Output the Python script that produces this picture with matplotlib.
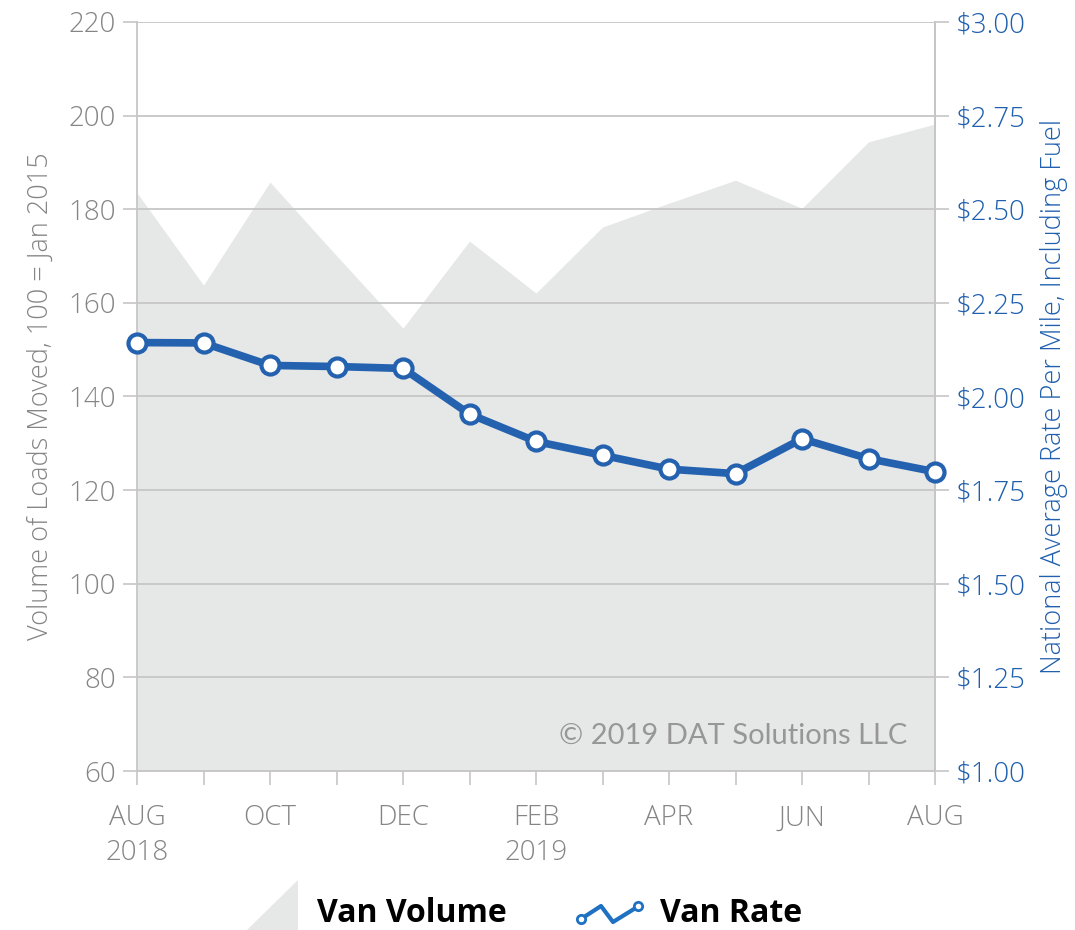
import matplotlib.pyplot as plt
from matplotlib.patches import Polygon
from matplotlib.lines import Line2D
import numpy as np

# Data
months = ["AUG\n2018", "SEP", "OCT", "NOV", "DEC", "JAN", "FEB\n2019",
          "MAR", "APR", "MAY", "JUN", "JUL", "AUG"]
van_volume = [183.5, 163.8, 185.8, 170.1, 154.6, 173.2, 162.1,
              176.2, 181.3, 186.2, 180.2, 194.4, 198.2]
van_rate = [2.144, 2.143, 2.083, 2.080, 2.075, 1.953, 1.880,
            1.843, 1.806, 1.794, 1.887, 1.834, 1.799]
left_ticks = [60, 80, 100, 120, 140, 160, 180, 200, 220]
right_ticks = [1.00, 1.25, 1.50, 1.75, 2.00, 2.25, 2.50, 2.75, 3.00]

gray_txt = "#858585"
blue_txt = "#1f5fae"
line_blue = "#2462af"
fill_gray = "#e6e7e7"
grid_gray = "#c6c6c6"
font = "Open Sans"
lw_font = "light"

fig = plt.figure(figsize=(10.75, 9.3), dpi=100)
ax = fig.add_axes([137 / 1075, 1 - 771 / 930, (935 - 137) / 1075, (771 - 22) / 930])
x = np.arange(len(months))

ax.fill_between(x, 0, van_volume, color=fill_gray, lw=0, zorder=1)
ax.set_xlim(0, len(months) - 1)
ax.set_ylim(60, 220)
ax.set_yticks(left_ticks)
ax.set_yticklabels([str(t) for t in left_ticks], fontsize=20, color=gray_txt,
                   family=font, fontweight=lw_font)
for t in left_ticks:
    ax.axhline(t, color=grid_gray, lw=1.3, zorder=2)

ax.set_xticks(x)
ax.set_xticklabels([m if i % 2 == 0 else "" for i, m in enumerate(months)],
                   fontsize=20, color=gray_txt, family=font, fontweight=lw_font,
                   linespacing=1.3)
ax.tick_params(axis="x", length=10, width=1.2, color=grid_gray, pad=14)
ax.tick_params(axis="y", length=10, width=1.2, color=grid_gray, pad=5)
ax.spines["top"].set_visible(False)
for side in ["left", "right", "bottom"]:
    ax.spines[side].set_color(grid_gray)
    ax.spines[side].set_linewidth(1.3)
ax.set_ylabel("Volume of Loads Moved, 100 = Jan 2015", fontsize=19.5,
              color=gray_txt, family=font, fontweight=lw_font, labelpad=10)

ax2 = ax.twinx()
ax2.plot(x, van_rate, color=line_blue, lw=5.5, marker="o", markersize=13,
         markerfacecolor="white", markeredgecolor=line_blue, markeredgewidth=3,
         zorder=5, clip_on=False)
ax2.set_ylim(1.0, 3.0)
ax2.set_yticks(right_ticks)
ax2.set_yticklabels([f"${t:.2f}" for t in right_ticks], fontsize=20,
                    color=blue_txt, family=font, fontweight=lw_font)
ax2.tick_params(axis="y", length=10, width=1.2, color=grid_gray, pad=5)
for side in ["top", "left", "bottom"]:
    ax2.spines[side].set_visible(False)
ax2.spines["right"].set_color(grid_gray)
ax2.spines["right"].set_linewidth(1.3)
ax2.set_ylabel("National Average Rate Per Mile, Including Fuel", fontsize=19.5,
               color=blue_txt, family=font, fontweight=lw_font, labelpad=10)

ax.text(0.966, 0.03, "\u00a9 2019 DAT Solutions LLC", transform=ax.transAxes,
        ha="right", va="bottom", fontsize=21, color="#979797", family="Lato",
        fontweight="normal")

# legend drawn by hand
W, H = 1075, 930
tri = Polygon([(298 / W, 1 - 880 / H), (298 / W, 0), (247 / W, 0)],
              closed=True, transform=fig.transFigure, color=fill_gray, lw=0)
fig.patches.append(tri)
fig.text(317 / W, 1 - 913 / H, "Van Volume", fontsize=23, fontweight="bold",
         family=font, va="center", ha="left", color="black")
icon_x = np.array([581, 601, 613, 634, 638]) / W
icon_y = 1 - np.array([919, 906, 922, 909, 906]) / H
fig.lines.append(Line2D(icon_x, icon_y, transform=fig.transFigure,
                        color="#1f72c2", lw=3))
fig.lines.append(Line2D([icon_x[0], icon_x[-1]], [icon_y[0], icon_y[-1]],
                        transform=fig.transFigure, lw=0, marker="o", markersize=6,
                        markerfacecolor="white", markeredgecolor="#1f72c2",
                        markeredgewidth=2))
fig.text(660 / W, 1 - 913 / H, "Van Rate", fontsize=23, fontweight="bold",
         family=font, va="center", ha="left", color="black")

fig.savefig("out.png", dpi=100)
